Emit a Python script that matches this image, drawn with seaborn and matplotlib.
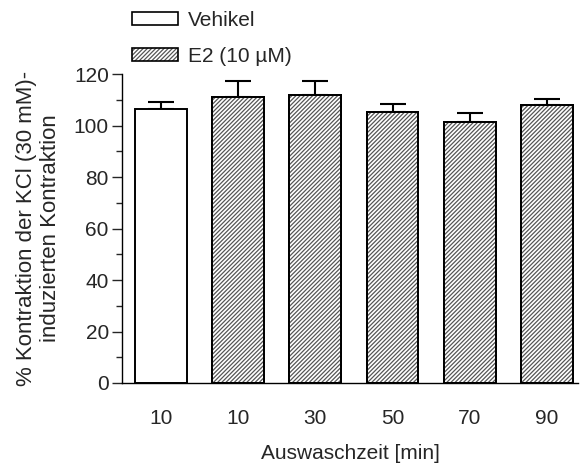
import matplotlib
matplotlib.use("Agg")
import matplotlib.pyplot as plt
from matplotlib.patches import Rectangle, Patch
from matplotlib.ticker import MultipleLocator
import numpy as np
import pandas as pd
import seaborn as sns

# Data: washout time groups, means and SEM (upper error only)
groups = ["Vehikel 10", "E2 10", "E2 30", "E2 50", "E2 70", "E2 90"]
tick_labels = ["10", "10", "30", "50", "70", "90"]
treatment = ["Vehikel", "E2 (10 µM)", "E2 (10 µM)", "E2 (10 µM)", "E2 (10 µM)", "E2 (10 µM)"]
means = [106.5, 111.1, 111.7, 105.4, 101.2, 108.0]
errors = [2.6, 6.3, 5.6, 3.1, 3.7, 2.4]

df = pd.DataFrame({"Gruppe": groups, "Wert": means, "Behandlung": treatment})

sns.set_style("ticks")
plt.rcParams["font.family"] = ["Liberation Sans", "DejaVu Sans"]
plt.rcParams["hatch.linewidth"] = 0.9

FS = 15

fig = plt.figure(figsize=(5.81, 4.63), dpi=100)
ax = fig.add_axes([0.21, 0.1728, 0.785, 0.6672])

sns.barplot(data=df, x="Gruppe", y="Wert", hue="Behandlung", dodge=False,
            palette=["white", "white"], edgecolor="black", linewidth=1.4,
            width=0.67, errorbar=None, legend=False, ax=ax)

hatch_color = "#555555"
hatch = "////////"
for patch, trt in zip(ax.patches[:len(groups)], treatment):
    patch.set_zorder(2)
    if trt != "Vehikel":
        x0, y0 = patch.get_x(), patch.get_y()
        w, h = patch.get_width(), patch.get_height()
        ax.add_patch(Rectangle((x0, y0), w, h, fill=False, hatch=hatch,
                               edgecolor=hatch_color, linewidth=0, zorder=2.1))
        ax.add_patch(Rectangle((x0, y0), w, h, fill=False, edgecolor="black",
                               linewidth=1.4, zorder=2.2))

# Upper error bars only
pos = np.arange(len(groups))
ax.errorbar(pos, means, yerr=[np.zeros(len(errors)), errors], fmt="none",
            ecolor="black", elinewidth=1.5, capsize=9.5, capthick=1.5, zorder=1.5)

ax.set_xlim(-0.5, 5.4)
ax.set_ylim(0, 120)
ax.set_xticks(pos)
ax.set_xticklabels(tick_labels)
ax.yaxis.set_major_locator(MultipleLocator(20))
ax.yaxis.set_minor_locator(MultipleLocator(10))
ax.tick_params(axis="x", length=0, pad=19, labelsize=FS)
ax.tick_params(axis="y", which="major", length=7.5, width=1.0, pad=2, labelsize=FS)
ax.tick_params(axis="y", which="minor", length=4, width=1.0)

for side in ["top", "right"]:
    ax.spines[side].set_visible(False)
for side in ["left", "bottom"]:
    ax.spines[side].set_linewidth(1.0)
    ax.spines[side].set_color("black")

ax.set_xlabel("Auswaschzeit [min]", fontsize=FS, labelpad=11)
ax.set_ylabel("% Kontraktion der KCl (30 mM)-\ninduzierten Kontraktion",
              fontsize=16, labelpad=9, linespacing=1.2)

# Legend above the axes
h_veh = Patch(facecolor="white", edgecolor="black", linewidth=1.2)
h_e2 = (Patch(facecolor="white", edgecolor=hatch_color, hatch=hatch, linewidth=0),
        Patch(fill=False, edgecolor="black", linewidth=1.2))
fig.legend([h_veh, h_e2], ["Vehikel", "E2 (10 µM)"], loc="upper left",
           bbox_to_anchor=(0.228, 0.976), frameon=False, fontsize=FS,
           handlelength=2.2, handleheight=0.55, handletextpad=0.45,
           labelspacing=0.8, borderpad=0, borderaxespad=0)

fig.savefig("out.png", dpi=100)
